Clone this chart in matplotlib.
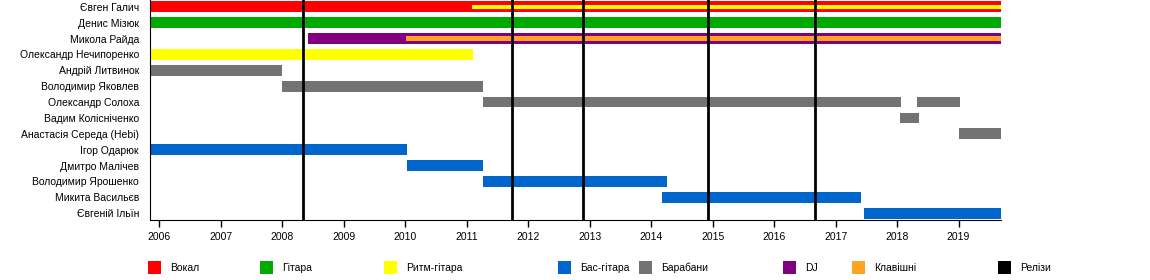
import matplotlib.pyplot as plt
from matplotlib.patches import Rectangle

plt.rcParams['font.family'] = ['Liberation Sans', 'DejaVu Sans']

members = ['Євген Галич', 'Денис Мізюк', 'Микола Райда', 'Олександр Нечипоренко',
           'Андрій Литвинок', 'Володимир Яковлев', 'Олександр Солоха', 'Вадим Колісніченко',
           'Анастасія Середа (Hebi)', 'Ігор Одарюк', 'Дмитро Малічев', 'Володимир Ярошенко',
           'Микита Васильєв', 'Євгеній Ільїн']

t_start = 2005.85
t_end = 2019.69

roles = ['Вокал', 'Гітара', 'Ритм-гітара', 'Бас-гітара', 'Барабани', 'DJ', 'Клавішні', 'Релізи']
role_colors = ['#ff0000', '#00aa00', '#ffff00', '#0066cc', '#737373', '#800080', '#ffa323', '#000000']

# main bars
bar_member = [0, 1, 2, 3, 4, 5, 6, 6, 7, 8, 9, 10, 11, 12, 13]
bar_start = [t_start, t_start, 2008.42, t_start, t_start, 2008.0, 2011.26, 2018.33, 2018.05, 2019.0,
             t_start, 2010.03, 2011.26, 2014.18, 2017.46]
bar_end = [t_end, t_end, t_end, 2011.1, 2008.0, 2011.26, 2018.06, 2019.02, 2018.35, t_end,
           2010.03, 2011.26, 2014.26, 2017.41, t_end]
bar_role = [0, 1, 5, 2, 4, 4, 4, 4, 4, 4, 3, 3, 3, 3, 3]

# thin secondary-role bars
sub_member = [0, 2]
sub_start = [2011.08, 2010.01]
sub_end = [t_end, t_end]
sub_role = [2, 6]

releases = [2008.34, 2011.73, 2012.89, 2014.92, 2016.66]

fig = plt.figure(figsize=(11.5, 2.8), dpi=100)
ax = fig.add_axes([150 / 1150, 1 - 220 / 280, 851 / 1150, 220 / 280])

for m, s, e, r in zip(bar_member, bar_start, bar_end, bar_role):
    ax.barh(m, e - s, left=s, height=0.68, color=role_colors[r], linewidth=0, zorder=2)
for m, s, e, r in zip(sub_member, sub_start, sub_end, sub_role):
    ax.barh(m, e - s, left=s, height=0.28, color=role_colors[r], linewidth=0, zorder=3)
for x in releases:
    ax.axvline(x, color='black', linewidth=2, zorder=4)

ax.set_xlim(t_start, t_end)
ax.set_ylim(13.43, -0.43)
ax.set_yticks(range(len(members)))
ax.set_yticklabels(members, fontsize=7.5)
ax.tick_params(axis='y', length=0, pad=8)
ax.set_xticks(range(2006, 2020))
ax.set_xticklabels([str(y) for y in range(2006, 2020)], fontsize=7.5)
ax.tick_params(axis='x', length=5, width=1, pad=4)
ax.spines['top'].set_visible(False)
ax.spines['right'].set_visible(False)

# legend
leg_x = [148, 260, 384, 558, 639, 783, 852, 998]
for i, (x, lab) in enumerate(zip(leg_x, roles)):
    fig.add_artist(Rectangle((x / 1150, 1 - 274 / 280), 13 / 1150, 13 / 280,
                             transform=fig.transFigure, color=role_colors[i], linewidth=0))
    fig.text((x + 22) / 1150, 1 - 268 / 280, lab, fontsize=7.5, va='center', ha='left')

fig.savefig('out.png', dpi=100)
